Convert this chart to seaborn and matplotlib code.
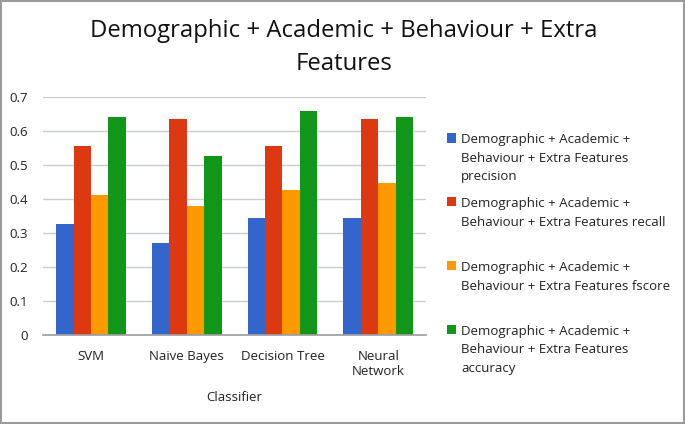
import matplotlib
matplotlib.use("Agg")
import matplotlib.pyplot as plt
import seaborn as sns
import pandas as pd
import numpy as np

categories = ["SVM", "Naive Bayes", "Decision Tree", "Neural\nNetwork"]
precision = [0.328, 0.271, 0.345, 0.343]
recall = [0.555, 0.637, 0.555, 0.637]
fscore = [0.412, 0.380, 0.426, 0.447]
accuracy = [0.640, 0.527, 0.660, 0.640]
series_names = [
    "Demographic + Academic +\nBehaviour + Extra Features\nprecision",
    "Demographic + Academic +\nBehaviour + Extra Features recall",
    "Demographic + Academic +\nBehaviour + Extra Features fscore",
    "Demographic + Academic +\nBehaviour + Extra Features\naccuracy",
]
colors = ["#3366CC", "#DC3912", "#FF9900", "#109618"]
yticks = [0, 0.1, 0.2, 0.3, 0.4, 0.5, 0.6, 0.7]

rows = []
for name, vals in zip(series_names, [precision, recall, fscore, accuracy]):
    for c, v in zip(categories, vals):
        rows.append({"Classifier": c, "Series": name, "Value": v})
df = pd.DataFrame(rows)

sns.set_theme(style="white")
plt.rcParams["font.family"] = ["Open Sans", "DejaVu Sans"]

fig = plt.figure(figsize=(6.85, 4.24), dpi=100)
fig.patch.set_facecolor("white")
fig.patch.set_edgecolor("#9a9a9a")
fig.patch.set_linewidth(1.5)
ax = fig.add_axes([0.063, 0.21, 0.559, 0.561])

sns.barplot(data=df, x="Classifier", y="Value", hue="Series", order=categories,
            hue_order=series_names, palette=colors, width=0.73, gap=0,
            saturation=1, ax=ax, errorbar=None, linewidth=0)

ax.set_ylim(0, 0.7)
ax.set_xlim(-0.5, 3.5)
ax.set_yticks(yticks)
ax.set_yticklabels(["0" if t == 0 else f"{t:.1f}" for t in yticks])
ax.yaxis.grid(True, color="#c9ccd2", linewidth=1)
ax.set_axisbelow(True)
for s in ["left", "right", "top"]:
    ax.spines[s].set_visible(False)
ax.spines["bottom"].set_color("#a0a0a0")
ax.tick_params(axis="y", length=0, labelsize=9.5, colors="#222222", pad=11)
ax.tick_params(axis="x", which="major", length=0, labelsize=9.5, colors="#222222", pad=11)
ax.set_xticks(np.arange(-0.5, 4, 1), minor=True)
ax.tick_params(axis="x", which="minor", length=5, color="#a0a0a0", width=1)
ax.set_ylabel("")
ax.set_xlabel("Classifier", fontsize=9.5, color="#222222", labelpad=9)

fig.suptitle("Demographic + Academic + Behaviour + Extra\nFeatures", x=0.502, y=0.955,
             fontsize=17.2, color="#111111", linespacing=1.5)

padded = []
for n in series_names:
    padded.append(n if n.count("\n") == 2 else n + "\n ")
handles, _ = ax.get_legend_handles_labels()
leg = fig.legend(handles, padded, loc="upper left", bbox_to_anchor=(0.645, 0.698),
                 frameon=False, fontsize=9.5, labelspacing=1.05, handlelength=0.7,
                 handleheight=0.7, handletextpad=0.35, borderaxespad=0)
if ax.get_legend():
    ax.get_legend().remove()
for t in leg.get_texts():
    t.set_linespacing(1.55)
    t.set_color("#222222")
for col in leg._legend_handle_box.get_children():
    for item in col.get_children():
        item.align = "top"

fig.savefig("out.png", dpi=100, facecolor=fig.get_facecolor(), edgecolor=fig.get_edgecolor())
